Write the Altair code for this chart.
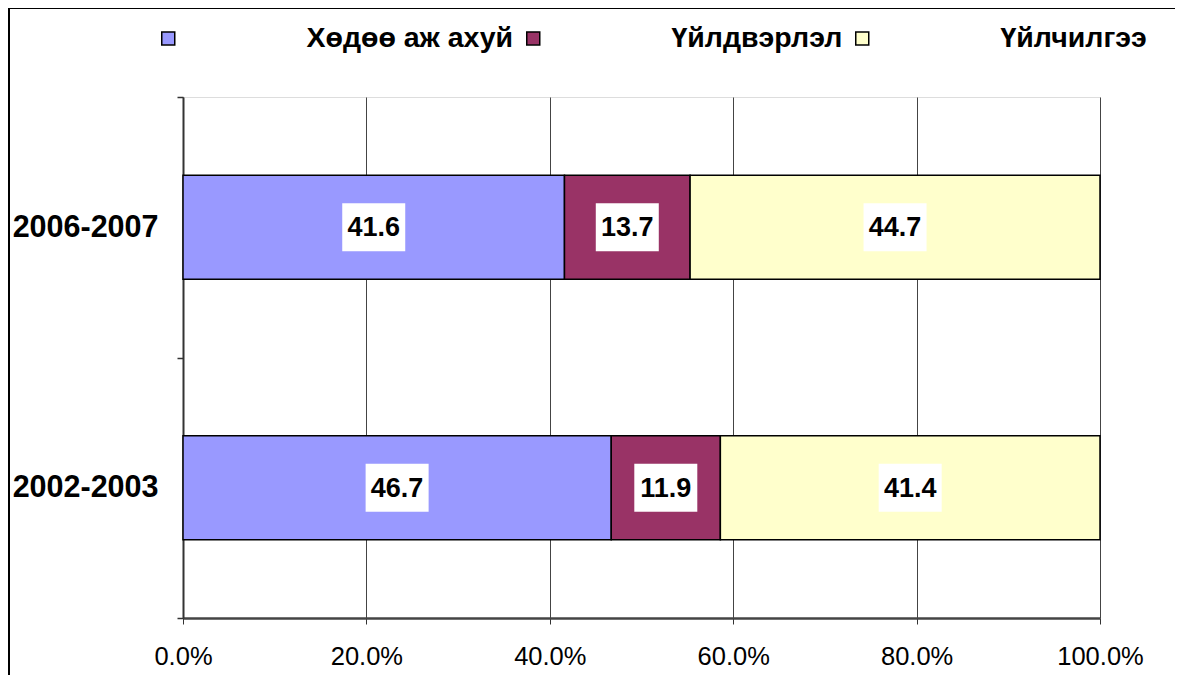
import altair as alt
import pandas as pd

# ---- data ----
periods = ["2006-2007", "2002-2003"]
sectors = ["Хөдөө аж ахуй", "Үйлдвэрлэл", "Үйлчилгээ"]
agriculture = [41.6, 46.7]
industry = [13.7, 11.9]
services = [44.7, 41.4]
colors = ["#9999FF", "#993366", "#FFFFCC"]
x_ticks = [0, 20, 40, 60, 80, 100]

rows = []
for i, p in enumerate(periods):
    for k, (s, vals) in enumerate(zip(sectors, [agriculture, industry, services])):
        rows.append({"period": p, "sector": s, "value": vals[i], "order": k})
df = pd.DataFrame(rows)

FONT = "Liberation Sans"

base = alt.Chart(df)

y_enc = alt.Y(
    "period:N",
    sort=periods,
    scale=alt.Scale(paddingInner=0, paddingOuter=0),
    axis=alt.Axis(
        title=None,
        tickBand="extent",
        labelFontSize=30.5,
        labelFontWeight="bold",
        labelColor="black",
        labelFont=FONT,
        labelPadding=19,
        tickSize=6,
        tickColor="#333333",
        tickWidth=1.5,
        domainColor="#333333",
        domainWidth=2,
        grid=False,
    ),
)

bars = base.mark_bar(height={"band": 0.4}, stroke="black", strokeWidth=1.5).encode(
    x=alt.X(
        "value:Q",
        stack="zero",
        scale=alt.Scale(domain=[0, 100], nice=False),
        axis=alt.Axis(
            title=None,
            values=x_ticks,
            labelExpr="format(datum.value, '.1f') + '%'",
            labelFlush=False,
            labelFontSize=25.5,
            labelFont=FONT,
            labelColor="black",
            labelPadding=20,
            tickSize=6,
            tickColor="#333333",
            domainColor="#444444",
            domainWidth=2.5,
            grid=True,
            gridColor="#444444",
            gridWidth=1,
        ),
    ),
    y=y_enc,
    color=alt.Color(
        "sector:N",
        sort=sectors,
        scale=alt.Scale(domain=sectors, range=colors),
        legend=alt.Legend(
            title=None,
            orient="none",
            direction="horizontal",
            legendX=-29,
            legendY=-73,
            symbolType="square",
            symbolSize=169,
            symbolStrokeColor="black",
            symbolStrokeWidth=1.5,
            labelFontSize=28.5,
            labelFontWeight="bold",
            labelFont=FONT,
            labelColor="black",
            labelOffset=124,
            columnPadding=5,
            labelLimit=400,
        ),
    ),
    order=alt.Order("order:Q"),
)

positioned = base.transform_window(
    cum="sum(value)", groupby=["period"], sort=[alt.SortField("order")]
).transform_calculate(mid="datum.cum - datum.value / 2")

boxes = positioned.mark_point(
    shape="M-1.3125,-1L1.3125,-1L1.3125,1L-1.3125,1Z",
    size=2304,
    filled=True,
    fill="white",
    opacity=1,
    strokeWidth=0,
).encode(x=alt.X("mid:Q"), y=alt.Y("period:N", sort=periods))

labels = positioned.mark_text(
    fontSize=27, fontWeight="bold", font=FONT, color="black", baseline="middle", dy=1
).encode(
    x=alt.X("mid:Q"),
    y=alt.Y("period:N", sort=periods),
    text=alt.Text("value:Q", format=".1f"),
)

frame = alt.Chart(alt.Data(values=[{"f": 1}])).mark_rect(
    fill=None, stroke="black", strokeWidth=2
).encode(
    x=alt.value(-174), x2=alt.value(995), y=alt.value(-89), y2=alt.value(700)
)

chart = (
    alt.layer(frame, bars, boxes, labels)
    .properties(
        width=917,
        height=521,
        autosize=alt.AutoSizeParams(type="none"),
        padding={"left": 175, "top": 89, "right": 75, "bottom": 70},
    )
    .configure_view(stroke="#808080", strokeWidth=2)
    .configure(font=FONT)
)

chart.save("out.html", embed_options={"renderer": "svg", "actions": False})
